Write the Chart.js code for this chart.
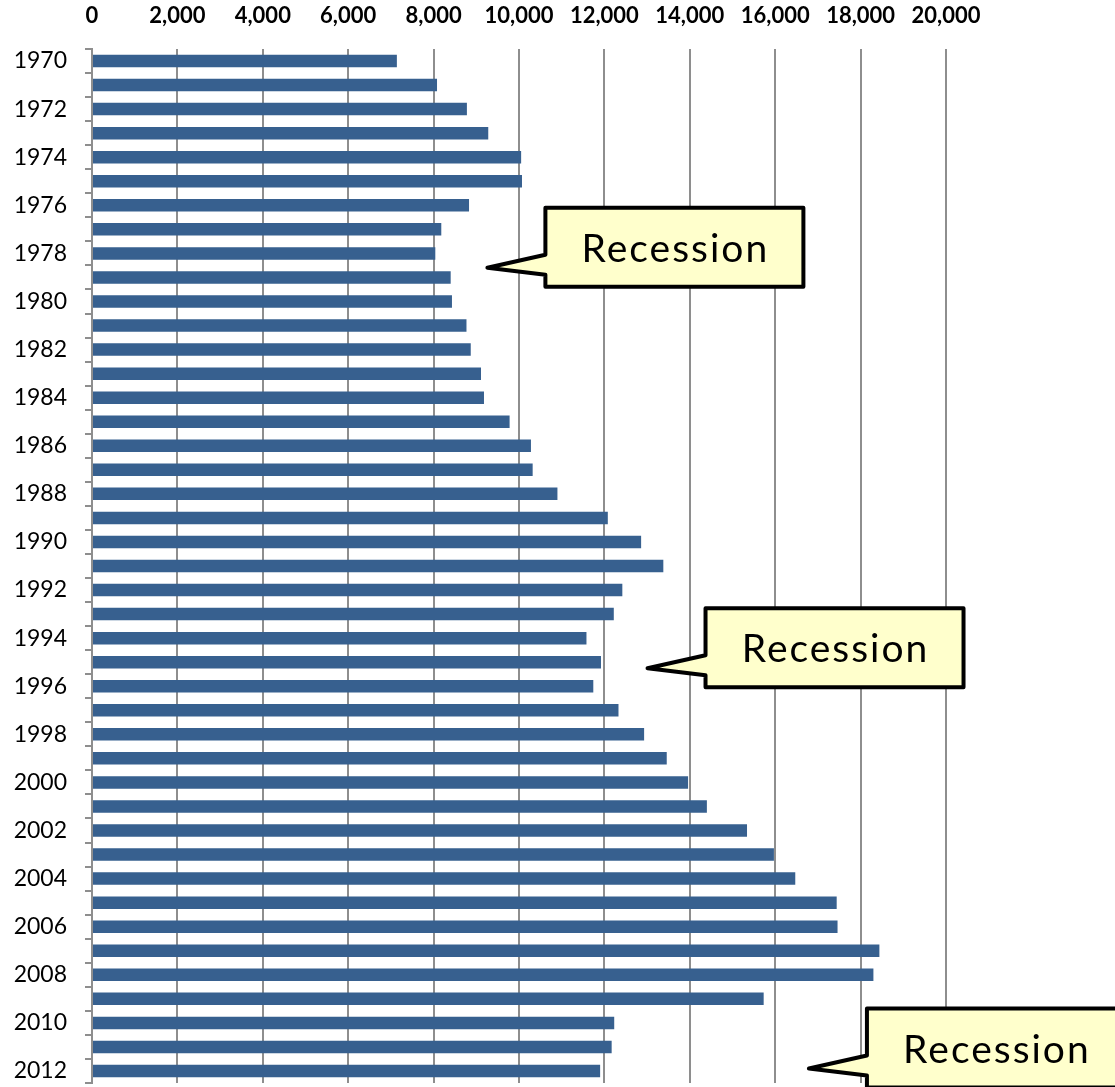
<!DOCTYPE html>
<html>
<head>
<meta charset="utf-8">
<script src="https://cdn.jsdelivr.net/npm/chart.js@4/dist/chart.umd.min.js"></script>
<style>
  html, body { margin: 0; padding: 0; background: #ffffff; }
  #wrap { width: 1115px; height: 1087px; position: relative; overflow: hidden; }
</style>
</head>
<body>
<div id="wrap"><canvas id="chart" width="1115" height="1087"></canvas></div>
<script>
// Years shown on the vertical axis (every other one is labelled)
const years = [];
for (let y = 1970; y <= 2012; y++) years.push(String(y));

// Annual values per year
const values = [
  7140, 8080, 8780, 9280, 10050, 10070, 8830, 8180, 8040, 8400,
  8430, 8770, 8870, 9110, 9180, 9780, 10280, 10320, 10900, 12080,
  12860, 13380, 12420, 12220, 11580, 11920, 11740, 12330, 12930, 13460,
  13960, 14400, 15340, 15970, 16470, 17440, 17460, 18440, 18300, 15730,
  12230, 12170, 11900
];

// Horizontal axis ticks
const xTicks = [0, 2000, 4000, 6000, 8000, 10000, 12000, 14000, 16000, 18000, 20000];

// Callout notes: text, year position and value the pointer tip aims at
const noteLabels = ['Recession', 'Recession', 'Recession'];
const noteYears = [1978.6, 1995.25, 2011.9];
const noteValues = [9260, 13010, 16790];

const GRID = '#8e8e8e';
const BAR = '#37608f';

const calloutPlugin = {
  id: 'callouts',
  afterDraw(chart) {
    const ctx = chart.ctx;
    const xs = chart.scales.x, ys = chart.scales.y;
    const w = 258, h = 79;
    ctx.save();
    noteLabels.forEach((label, i) => {
      const tx = xs.getPixelForValue(noteValues[i]);
      const ty = ys.getPixelForValue(noteYears[i] - 1970);
      const bx = tx + 58, by = ty - 60;
      ctx.beginPath();
      ctx.moveTo(bx, by);
      ctx.lineTo(bx + w, by);
      ctx.lineTo(bx + w, by + h);
      ctx.lineTo(bx, by + h);
      ctx.lineTo(bx, ty + 7);
      ctx.lineTo(tx, ty);
      ctx.lineTo(bx, ty - 13);
      ctx.closePath();
      ctx.fillStyle = '#ffffcc';
      ctx.fill();
      ctx.lineWidth = 4;
      ctx.lineJoin = 'round';
      ctx.strokeStyle = '#000000';
      ctx.stroke();
      ctx.fillStyle = '#000000';
      ctx.font = '39px Lato';
      if ('letterSpacing' in ctx) ctx.letterSpacing = '2px';
      ctx.textAlign = 'center';
      ctx.textBaseline = 'middle';
      ctx.fillText(label, bx + w / 2 + 1, by + h / 2 + 2);
      if ('letterSpacing' in ctx) ctx.letterSpacing = '0px';
    });
    ctx.restore();
  }
};

new Chart(document.getElementById('chart'), {
  type: 'bar',
  data: {
    labels: years,
    datasets: [{
      data: values,
      backgroundColor: BAR,
      borderWidth: 0,
      barPercentage: 0.52,
      categoryPercentage: 1.0
    }]
  },
  options: {
    indexAxis: 'y',
    responsive: false,
    animation: false,
    devicePixelRatio: 1,
    layout: { padding: { top: 0, left: 0, right: 169, bottom: 4 } },
    plugins: {
      legend: { display: false },
      tooltip: { enabled: false }
    },
    scales: {
      x: {
        position: 'top',
        min: 0,
        max: 20000,
        afterFit: s => { s.height = 49; },
        afterBuildTicks: s => { s.ticks = xTicks.map(v => ({ value: v })); },
        ticks: {
          padding: 20,
          color: '#000000',
          font: { family: 'Lato', size: 22, weight: 'bold' },
          callback: v => v.toLocaleString('en-US')
        },
        grid: { color: GRID, lineWidth: 2, drawTicks: false },
        border: { display: false }
      },
      y: {
        afterFit: s => { s.width = 92; s.paddingTop = 0; s.paddingBottom = 0; },
        ticks: {
          autoSkip: false,
          padding: 18,
          color: '#000000',
          font: { family: 'Lato', size: 23 },
          callback: function (v, i) { return i % 2 === 0 ? this.getLabelForValue(v) : ''; }
        },
        grid: { offset: true, drawOnChartArea: false, tickLength: 7, color: GRID, lineWidth: 2 },
        border: { display: true, color: GRID, width: 2 }
      }
    }
  },
  plugins: [calloutPlugin]
});
</script>
</body>
</html>
